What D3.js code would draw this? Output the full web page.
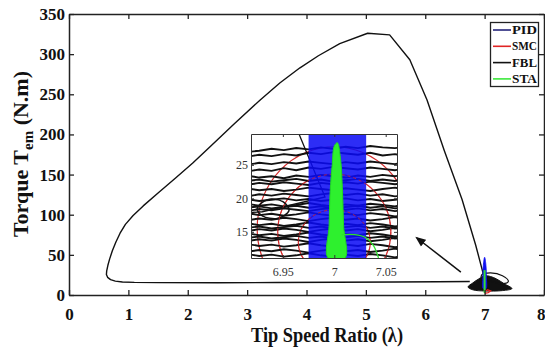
<!DOCTYPE html>
<html>
<head>
<meta charset="utf-8">
<script src="https://cdn.jsdelivr.net/npm/d3@7"></script>
<style>
  body { margin: 0; background: #fff; }
  svg { display: block; }
  text { font-family: "Liberation Serif", "Times New Roman", serif; }
</style>
</head>
<body>
<div id="chart"></div>
<script>
// ---- data ----
const xTicks = [0, 1, 2, 3, 4, 5, 6, 7, 8];
const yTicks = [0, 50, 100, 150, 200, 250, 300, 350];
const insetXTicks = [6.95, 7, 7.05];
const insetYTicks = [15, 20, 25];

const legendNames = ["PID", "SMC", "FBL", "STA"];
const legendColors = ["#24247a", "#e02424", "#111111", "#3be83b"];

// FBL big trajectory [lambda, torque]
const fblLoop = [
  [6.75, 16.8], [6.2, 16.5], [5.5, 16.2], [4.5, 15.8], [3.5, 15.5], [2.5, 15.3],
  [1.5, 15.4], [1.1, 15.7], [0.9, 16.2], [0.78, 17.3], [0.7, 19.2], [0.65, 22],
  [0.63, 25.5], [0.635, 30], [0.655, 37], [0.685, 45], [0.73, 55], [0.79, 66],
  [0.86, 77], [0.95, 88], [1.08, 99], [1.25, 111], [1.5, 127], [1.8, 146],
  [2.08, 164], [2.38, 185], [2.78, 213], [3.22, 243], [3.55, 264], [3.89, 283],
  [4.2, 298], [4.56, 313], [5.03, 326], [5.4, 324], [5.74, 293], [6.03, 243],
  [6.32, 180], [6.62, 119], [6.85, 62], [6.966, 29.5], [6.991, 20.2], [6.93, 18],
  [6.85, 17.2]
];
// FBL oscillation cluster near lambda = 7
const fblBlob = [
  [6.72, 10], [6.8, 15], [6.9, 20], [7.0, 24], [7.1, 23], [7.2, 20], [7.33, 14],
  [7.46, 8], [7.3, 5.5], [7.0, 5], [6.8, 6.5]
];
const fblClusterLoop = [
  [6.95, 25], [7.1, 27.5], [7.3, 24], [7.4, 17], [7.3, 14], [7.1, 17], [6.95, 21]
];
const pidSpike = [
  [7.0, 47], [7.022, 37], [7.03, 22], [7.025, 8], [6.975, 8], [6.97, 22], [6.978, 37]
];
const staMain = [[7.0, 31], [7.0, 2.5]];
const smcMain = [[7.0, 2], [7.06, 3], [7.1, 5], [7.05, 6.5], [7.0, 4]];
const arrowFrom = [6.6, 28.6];
const arrowTo = [5.86, 71];

// inset (zoom) data
const insetGridX = [6.915, 6.927, 6.939, 6.951, 6.963, 6.975, 6.987, 6.999, 7.011, 7.023, 7.035, 7.047, 7.059, 7.071];
const fblTraces = [
  [26.9, 27.1, 27.4, 27.2, 27.5, 27.3, 27.6, 27.4, 27.7, 27.5, 27.8, 27.6, 27.5, 27.7],
  [26.2, 26.5, 26.3, 26.6, 26.4, 26.8, 26.6, 26.9, 26.7, 26.5, 26.8, 26.4, 26.6, 26.3],
  [25.0, 25.3, 25.1, 25.4, 25.2, 25.5, 25.3, 25.1, 25.4, 25.2, 25.5, 25.3, 25.1, 25.4],
  [24.0, 24.3, 24.1, 24.5, 24.2, 24.6, 24.4, 24.7, 24.5, 24.3, 24.6, 24.4, 24.2, 24.5],
  [23.4, 23.1, 23.3, 23.0, 23.4, 23.2, 23.5, 23.3, 23.1, 23.4, 23.2, 23.5, 23.3, 23.6],
  [22.6, 22.8, 22.5, 22.7, 22.9, 22.6, 22.8, 22.5, 22.7, 22.9, 22.6, 22.8, 22.6, 22.9],
  [22.0, 22.3, 22.1, 22.4, 22.2, 22.0, 22.3, 22.1, 22.4, 22.2, 22.5, 22.3, 22.1, 22.4],
  [21.5, 21.2, 21.4, 21.1, 21.3, 21.6, 21.4, 21.2, 21.5, 21.3, 21.1, 21.4, 21.6, 21.3],
  [20.3, 20.6, 20.4, 20.7, 20.5, 20.3, 20.6, 20.8, 20.5, 20.7, 20.4, 20.6, 20.3, 20.5],
  [19.9, 19.6, 19.8, 20.0, 19.7, 19.9, 19.6, 19.8, 20.0, 19.7, 19.9, 19.6, 19.8, 20.0],
  [19.2, 18.9, 19.1, 18.8, 19.0, 19.3, 19.0, 18.8, 19.1, 18.9, 19.2, 19.0, 18.8, 19.1],
  [18.6, 18.8, 18.5, 18.7, 18.9, 18.6, 18.8, 18.5, 18.7, 18.9, 18.6, 18.8, 18.5, 18.7],
  [18.1, 18.4, 18.2, 18.5, 18.3, 18.1, 18.4, 18.6, 18.3, 18.5, 18.2, 18.4, 18.1, 18.3],
  [17.8, 17.5, 17.7, 17.4, 17.6, 17.9, 17.6, 17.4, 17.7, 17.5, 17.8, 17.6, 17.3, 17.6],
  [16.7, 17.0, 16.8, 17.1, 16.9, 16.6, 16.9, 17.1, 16.8, 17.0, 16.7, 16.9, 17.2, 16.9],
  [16.3, 16.0, 16.2, 15.9, 16.1, 16.4, 16.1, 15.9, 16.2, 16.0, 16.3, 16.1, 15.8, 16.1],
  [15.6, 15.8, 15.5, 15.7, 15.9, 15.6, 15.8, 15.5, 15.7, 15.9, 15.6, 15.8, 15.5, 15.7],
  [15.1, 15.4, 15.2, 15.5, 15.3, 15.0, 15.3, 15.5, 15.2, 15.4, 15.1, 15.3, 15.6, 15.3],
  [14.8, 14.5, 14.7, 14.4, 14.6, 14.9, 14.6, 14.4, 14.7, 14.5, 14.8, 14.6, 14.3, 14.6],
  [14.1, 14.3, 14.0, 14.2, 14.4, 14.1, 14.3, 14.0, 14.2, 14.4, 14.1, 14.3, 14.0, 14.2],
  [13.6, 13.9, 13.7, 14.0, 13.8, 13.5, 13.8, 14.0, 13.7, 13.9, 13.6, 13.8, 14.1, 13.8],
  [13.2, 12.9, 13.1, 12.8, 13.0, 13.3, 13.0, 12.8, 13.1, 12.9, 13.2, 13.0, 12.7, 13.0],
  [12.0, 12.3, 12.1, 12.4, 12.2, 11.9, 12.2, 12.4, 12.1, 12.3, 12.0, 12.2, 12.5, 12.2],
  [11.7, 11.4, 11.6, 11.3, 11.5, 11.8, 11.5, 11.3, 11.6, 11.4, 11.7, 11.5, 11.2, 11.5]
];
const fblInsetLoop = [
  [6.925, 18.5], [6.935, 19.8], [6.95, 19.5], [6.956, 18.2], [6.945, 17.0], [6.93, 17.4]
];
const pidBand = [6.975, 7.031];
// SMC orbits: [centre lambda, centre torque, half-width, half-height]
const smcOrbits = [
  [7.0, 15.5, 0.075, 12.2],
  [7.0, 15.0, 0.055, 8.6],
  [7.0, 13.5, 0.035, 4.8]
];
const staSpike = [
  [6.994, 11.1], [6.995, 16], [6.996, 21], [6.998, 25], [7.0, 27.8], [7.003, 28.3],
  [7.006, 26], [7.008, 21], [7.009, 16], [7.0105, 11.1]
];
const staArc = [[7.007, 14.6], [7.02, 14.6], [7.03, 14.2], [7.038, 13], [7.043, 11.1]];

// ---- layout ----
const W = 545, H = 352;
const margin = { top: 14, right: 1, bottom: 57, left: 69 };

const svg = d3.select("#chart").append("svg")
  .attr("width", W).attr("height", H);

const xScale = d3.scaleLinear().domain([0, 8]).range([margin.left, W - margin.right]);
const yScale = d3.scaleLinear().domain([0, 350]).range([H - margin.bottom, margin.top]);

const defs = svg.append("defs");
defs.append("clipPath").attr("id", "plotClip").append("rect")
  .attr("x", margin.left).attr("y", margin.top)
  .attr("width", W - margin.left - margin.right)
  .attr("height", H - margin.top - margin.bottom);
defs.append("marker").attr("id", "arrowHead")
  .attr("viewBox", "0 -5 10 10").attr("refX", 8).attr("refY", 0)
  .attr("markerWidth", 7).attr("markerHeight", 7).attr("orient", "auto")
  .append("path").attr("d", "M0,-4L10,0L0,4Z").attr("fill", "#111");

const line = d3.line().x(d => xScale(d[0])).y(d => yScale(d[1]));
const closedSmooth = d3.line().x(d => xScale(d[0])).y(d => yScale(d[1])).curve(d3.curveCatmullRomClosed);

const plot = svg.append("g").attr("clip-path", "url(#plotClip)");

// main FBL trajectory
plot.append("path").datum(fblLoop).attr("d", line)
  .attr("fill", "none").attr("stroke", "#111").attr("stroke-width", 1.4)
  .attr("stroke-linejoin", "round");

// cluster at lambda = 7
plot.append("path").datum(fblBlob).attr("d", closedSmooth)
  .attr("fill", "#111").attr("stroke", "#111").attr("stroke-width", 1);
plot.append("path").datum(fblClusterLoop).attr("d", closedSmooth)
  .attr("fill", "none").attr("stroke", "#111").attr("stroke-width", 1.2);

plot.append("path").datum(pidSpike).attr("d", closedSmooth)
  .attr("fill", "#1010f0").attr("stroke", "#1010f0").attr("stroke-width", 0.8);
plot.append("path").datum(smcMain).attr("d", line)
  .attr("fill", "none").attr("stroke", "#e02424").attr("stroke-width", 1.3);
plot.append("path").datum(staMain).attr("d", line)
  .attr("fill", "none").attr("stroke", "#33e033").attr("stroke-width", 2);

// arrow to inset
svg.append("line")
  .attr("x1", xScale(arrowFrom[0])).attr("y1", yScale(arrowFrom[1]))
  .attr("x2", xScale(arrowTo[0])).attr("y2", yScale(arrowTo[1]))
  .attr("stroke", "#111").attr("stroke-width", 1.5)
  .attr("marker-end", "url(#arrowHead)");

// ---- main axes ----
const axisStyle = g => {
  g.select(".domain").attr("stroke", "#222").attr("stroke-width", 1.5);
  g.selectAll(".tick line").attr("stroke", "#222").attr("stroke-width", 1.3);
  g.selectAll(".tick text").attr("fill", "#111")
    .attr("font-family", "Liberation Serif, serif")
    .attr("font-weight", "bold").attr("font-size", 17);
};

svg.append("g").attr("transform", `translate(0,${yScale(0)})`)
  .call(d3.axisBottom(xScale).tickValues(xTicks).tickSizeInner(-5).tickSizeOuter(0).tickPadding(13))
  .call(axisStyle)
  .call(g => g.selectAll(".tick text").filter(d => d === 8)
    .attr("text-anchor", "end").attr("x", W - xScale(8)));
svg.append("g").attr("transform", `translate(0,${yScale(350)})`)
  .call(d3.axisTop(xScale).tickValues(xTicks).tickSizeInner(-5).tickSizeOuter(0).tickFormat(""))
  .call(axisStyle);
svg.append("g").attr("transform", `translate(${xScale(0)},0)`)
  .call(d3.axisLeft(yScale).tickValues(yTicks).tickSizeInner(-5).tickSizeOuter(0).tickPadding(4))
  .call(axisStyle);
svg.append("g").attr("transform", `translate(${xScale(8)},0)`)
  .call(d3.axisRight(yScale).tickValues(yTicks).tickSizeInner(-5).tickSizeOuter(0).tickFormat(""))
  .call(axisStyle);

// axis titles
svg.append("text")
  .attr("x", 327).attr("y", 342).attr("text-anchor", "middle")
  .attr("font-weight", "bold").attr("font-size", 21).attr("fill", "#111")
  .attr("textLength", 152).attr("lengthAdjust", "spacingAndGlyphs")
  .text("Tip Speed Ratio (λ)");

const yTitle = svg.append("text")
  .attr("transform", "translate(28,154) rotate(-90)")
  .attr("text-anchor", "middle")
  .attr("font-weight", "bold").attr("font-size", 22).attr("fill", "#111");
yTitle.append("tspan").text("Torque T");
yTitle.append("tspan").attr("font-size", 15).attr("dy", 5).text("em");
yTitle.append("tspan").attr("dy", -5).text(" (N.m)");

// ---- legend ----
const legend = svg.append("g");
legend.append("rect").attr("x", 490.5).attr("y", 22.5).attr("width", 48).attr("height", 64)
  .attr("fill", "#fff").attr("stroke", "#222").attr("stroke-width", 1.3);
legendNames.forEach((name, i) => {
  const ly = 30 + i * 16.3;
  legend.append("line").attr("x1", 493).attr("x2", 511).attr("y1", ly).attr("y2", ly)
    .attr("stroke", legendColors[i]).attr("stroke-width", 1.6);
  legend.append("text").attr("x", 512).attr("y", ly).attr("dy", "0.35em")
    .attr("font-weight", "bold").attr("font-size", 11.5).attr("fill", "#111")
    .attr("textLength", 25).attr("lengthAdjust", "spacingAndGlyphs")
    .text(name);
});

// ---- inset ----
const ix = d3.scaleLinear().domain([6.919, 7.061]).range([251, 397]);
const iy = d3.scaleLinear().domain([11.1, 29.6]).range([258, 134]);

defs.append("clipPath").attr("id", "insetClip").append("rect")
  .attr("x", 251).attr("y", 134).attr("width", 146).attr("height", 124);

const inset = svg.append("g");
inset.append("rect").attr("x", 251).attr("y", 134).attr("width", 146).attr("height", 124)
  .attr("fill", "#fff");
const ig = inset.append("g").attr("clip-path", "url(#insetClip)");
const iline = d3.line().x(d => ix(d[0])).y(d => iy(d[1]));
const iclosed = d3.line().x(d => ix(d[0])).y(d => iy(d[1])).curve(d3.curveCatmullRomClosed);

smcOrbits.forEach(o => {
  ig.append("ellipse")
    .attr("cx", ix(o[0])).attr("cy", iy(o[1]))
    .attr("rx", ix(o[0] + o[2]) - ix(o[0])).attr("ry", iy(o[1]) - iy(o[1] + o[3]))
    .attr("fill", "none").attr("stroke", "#d42a2a").attr("stroke-width", 1.2);
});

fblTraces.forEach(ys => {
  ig.append("path").datum(ys.map((v, k) => [insetGridX[k], v])).attr("d", iline)
    .attr("fill", "none").attr("stroke", "#111").attr("stroke-width", 1.9);
});
ig.append("path").datum(fblInsetLoop).attr("d", iclosed)
  .attr("fill", "none").attr("stroke", "#111").attr("stroke-width", 1.5);
ig.append("path").datum(fblLoop).attr("d", iline)
  .attr("fill", "none").attr("stroke", "#111").attr("stroke-width", 1.3);

ig.append("rect")
  .attr("x", ix(pidBand[0])).attr("y", 134)
  .attr("width", ix(pidBand[1]) - ix(pidBand[0])).attr("height", 124)
  .attr("fill", "#0a0af5").attr("opacity", 0.86);

smcOrbits.slice(1).forEach(o => {
  ig.append("ellipse")
    .attr("cx", ix(o[0])).attr("cy", iy(o[1]))
    .attr("rx", ix(o[0] + o[2]) - ix(o[0])).attr("ry", iy(o[1]) - iy(o[1] + o[3]))
    .attr("fill", "none").attr("stroke", "#d42a2a").attr("stroke-width", 1)
    .attr("stroke-dasharray", "3,3").attr("opacity", 0.8);
});

ig.append("path").datum(staSpike).attr("d", iclosed)
  .attr("fill", "#2ef02e").attr("stroke", "#22d822").attr("stroke-width", 1);
ig.append("path").datum(staArc)
  .attr("d", d3.line().x(d => ix(d[0])).y(d => iy(d[1])).curve(d3.curveCatmullRom))
  .attr("fill", "none").attr("stroke", "#2ee02e").attr("stroke-width", 1.3);

// inset axes
const insetAxisStyle = g => {
  g.select(".domain").attr("stroke", "#333").attr("stroke-width", 1);
  g.selectAll(".tick line").attr("stroke", "#333");
  g.selectAll(".tick text").attr("fill", "#333")
    .attr("font-family", "Liberation Serif, serif").attr("font-size", 12);
};
inset.append("g").attr("transform", "translate(0,258)")
  .call(d3.axisBottom(ix).tickValues(insetXTicks).tickSizeInner(-3).tickSizeOuter(0).tickPadding(9).tickFormat(d3.format("")))
  .call(insetAxisStyle);
inset.append("g").attr("transform", "translate(0,134)")
  .call(d3.axisTop(ix).tickValues(insetXTicks).tickSizeInner(-3).tickSizeOuter(0).tickFormat(""))
  .call(insetAxisStyle);
inset.append("g").attr("transform", "translate(251,0)")
  .call(d3.axisLeft(iy).tickValues(insetYTicks).tickSizeInner(-3).tickSizeOuter(0).tickPadding(3))
  .call(insetAxisStyle);
inset.append("g").attr("transform", "translate(397,0)")
  .call(d3.axisRight(iy).tickValues(insetYTicks).tickSizeInner(-3).tickSizeOuter(0).tickFormat(""))
  .call(insetAxisStyle);
</script>
</body>
</html>
